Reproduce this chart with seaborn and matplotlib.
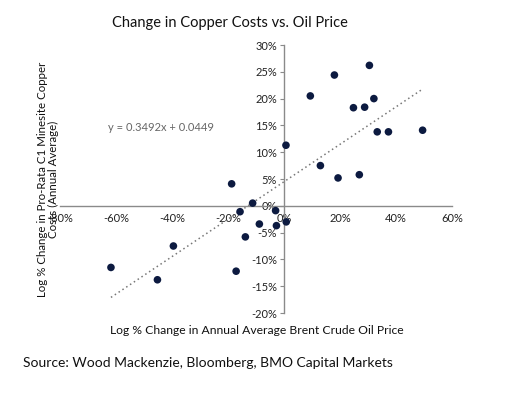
import matplotlib
matplotlib.use("Agg")
import matplotlib.pyplot as plt
import matplotlib.ticker as mticker
import seaborn as sns
import numpy as np
import pandas as pd

# Data (percent)
oil_change = [49.5, 30.5, 18.0, 9.4, 32.1, 24.8, 28.8, 33.3, 37.3, 0.7, 13.0, 19.3, 26.9,
              -18.7, -11.2, -15.7, -3.0, -8.8, -2.7, 0.8, -13.8, -39.5, -61.8, -17.1, -45.2]
copper_change = [14.1, 26.2, 24.4, 20.5, 20.0, 18.3, 18.4, 13.8, 13.8, 11.3, 7.5, 5.2, 5.8,
                 4.1, 0.5, -1.1, -0.9, -3.4, -3.7, -3.0, -5.8, -7.5, -11.5, -12.2, -13.8]
slope = 0.3492
intercept = 0.0449
x_ticks = [-80, -60, -40, -20, 0, 20, 40, 60]
y_ticks = [-20, -15, -10, -5, 0, 5, 10, 15, 20, 25, 30]

df = pd.DataFrame({"oil": oil_change, "copper": copper_change})

sns.set_theme(style="white")
plt.rcParams["font.family"] = ["Lato", "DejaVu Sans"]

fig = plt.figure(figsize=(5.2, 3.99), dpi=100)
ax = fig.add_axes([60/520, 1-313/399, 392/520, 268/399])

# trendline
xl = np.array([min(oil_change), max(oil_change)])
yl = (slope * xl / 100 + intercept) * 100
ax.plot(xl, yl, linestyle=(0, (1, 2)), color="#777777", linewidth=1.1, zorder=1)

sns.scatterplot(data=df, x="oil", y="copper", ax=ax, color="#0c1a40", s=30,
                edgecolor="none", zorder=3, legend=False)

ax.set_xlim(-80, 60)
ax.set_ylim(-20, 30)
ax.set_xticks(x_ticks)
ax.set_yticks(y_ticks)
ax.xaxis.set_major_formatter(mticker.FuncFormatter(lambda v, p: f"{v:.0f}%"))
ax.yaxis.set_major_formatter(mticker.FuncFormatter(lambda v, p: f"{v:.0f}%"))

for s in ["top", "right"]:
    ax.spines[s].set_visible(False)
ax.spines["left"].set_position(("data", 0))
ax.spines["bottom"].set_position(("data", 0))
for s in ["left", "bottom"]:
    ax.spines[s].set_color("#8a8a8a")
    ax.spines[s].set_linewidth(1.0)

ax.tick_params(axis="both", labelsize=8, colors="#222222", length=3, width=0.8, pad=2)
ax.tick_params(axis="x", color="#8a8a8a", bottom=False)
ax.tick_params(axis="y", color="#8a8a8a", left=True, direction="out")
ax.set_xlabel("")
ax.set_ylabel("")
ax.grid(False)

ax.text(-44, 14.7, "y = 0.3492x + 0.0449", fontsize=8, color="#666666",
        ha="center", va="center")

fig.text(230/520, 1-23/399, "Change in Copper Costs vs. Oil Price", fontsize=10.5,
         ha="center", va="center", color="#111111")
fig.text(257/520, 1-331/399, "Log % Change in Annual Average Brent Crude Oil Price",
         fontsize=8.7, ha="center", va="center", color="#111111")
fig.text(48/520, 1-179/399,
         "Log % Change in Pro-Rata C1 Minesite Copper\nCosts (Annual Average)",
         fontsize=8.3, ha="center", va="center", rotation=90, color="#111111",
         multialignment="center", linespacing=1.1)
fig.text(23/520, 1-363/399, "Source: Wood Mackenzie, Bloomberg, BMO Capital Markets",
         fontsize=10, ha="left", va="center", color="#111111")

fig.savefig("out.png", dpi=100, facecolor="white")
